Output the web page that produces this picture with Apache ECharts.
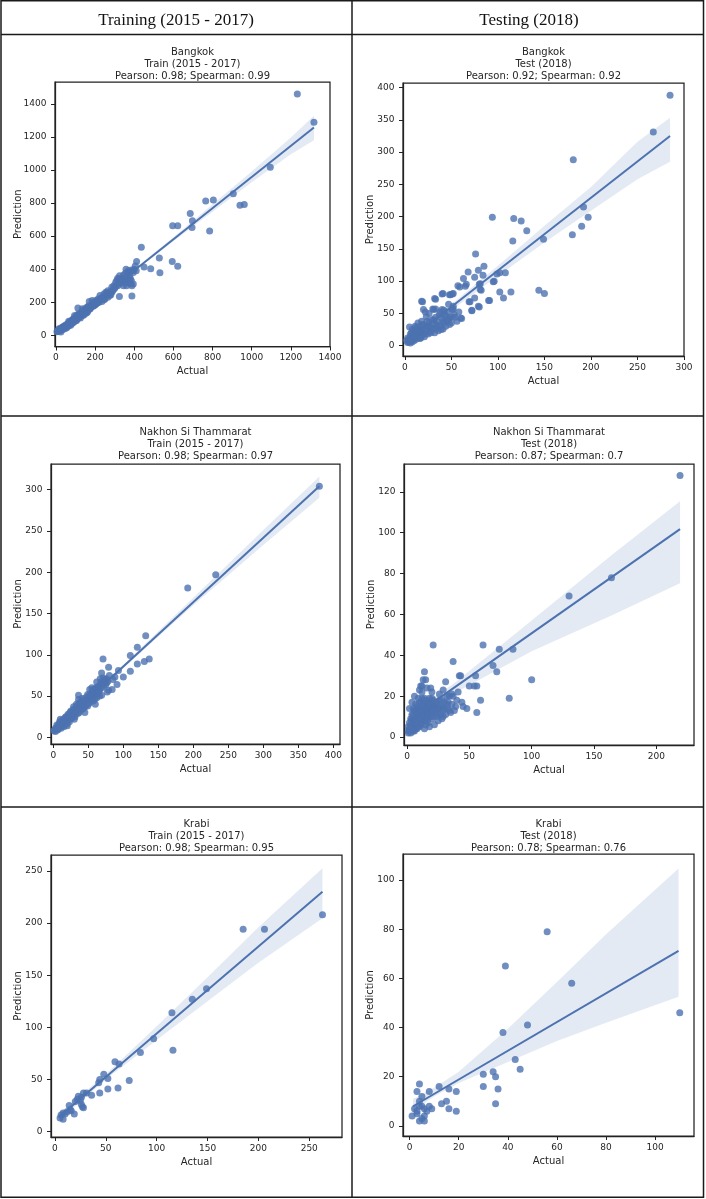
<!DOCTYPE html>
<html>
<head>
<meta charset="utf-8">
<script src="https://cdn.jsdelivr.net/npm/echarts@6/dist/echarts.min.js"></script>
<style>
html,body{margin:0;padding:0;background:#ffffff;}
#chart{width:706px;height:1199px;}
</style>
</head>
<body>
<div id="chart"></div>
<script>
// ---------------- DATA ----------------
const headerLabels = ['Training (2015 - 2017)', 'Testing (2018)'];
const cityNames = ['Bangkok', 'Bangkok', 'Nakhon Si Thammarat', 'Nakhon Si Thammarat', 'Krabi', 'Krabi'];
const periodNames = ['Train (2015 - 2017)', 'Test (2018)', 'Train (2015 - 2017)', 'Test (2018)', 'Train (2015 - 2017)', 'Test (2018)'];
const pearsonValues = ['0.98', '0.92', '0.98', '0.87', '0.98', '0.78'];
const spearmanValues = ['0.99', '0.92', '0.97', '0.7', '0.95', '0.76'];
const xAxisName = 'Actual';
const yAxisName = 'Prediction';

// Bangkok - Train
const bkkTrainPoints = [
  [1233,1460],[1318,1290],[1095,1017],[906,857],[940,787],[962,791],[765,813],[804,819],[785,631],
  [686,737],[697,693],[695,653],[596,663],[622,663],[436,533],[412,447],[528,467],[594,447],[622,417],
  [531,379],[450,413],[484,403],[388,238],[324,234],
  [5,22],[8,25],[10,28],[12,24],[15,30],[18,35],[20,28],[22,40],[25,33],[28,45],[30,38],[33,42],[35,50],
  [38,44],[40,55],[42,48],[45,52],[48,60],[50,58],[52,50],[55,65],[58,62],[60,70],[62,55],
  [65,72],[68,60],[70,80],[72,75],[75,85],[78,70],[80,90],[82,78],[85,95],[88,85],[90,100],[92,80],
  [95,105],[98,95],[100,110],[102,90],[105,115],[108,100],[110,120],[112,165],[115,105],[118,125],
  [120,110],[125,130],[128,118],[130,140],[133,125],[135,145],[138,120],[140,150],[143,135],[145,155],
  [148,140],[150,160],[155,150],[158,170],[160,140],[165,175],[170,205],[172,160],[175,180],[180,170],
  [185,190],[190,175],[195,200],[200,185],[205,210],[210,195],[215,220],[220,200],[225,215],[230,225],
  [235,205],[240,230],[245,250],[250,220],[255,240],[260,255],[265,230],[270,250],[275,260],[280,245],
  [285,290],[290,270],[295,300],[300,285],[305,320],[310,330],[315,300],[320,340],[325,310],[330,335],
  [335,320],[340,345],[345,300],[350,330],[355,375],[358,400],[362,340],[365,320],[370,390],[375,360],
  [380,345],[385,330],[388,300],[392,390],[395,310],[400,400],[405,420],[410,390],
  [15,40],[25,20],[35,35],[45,40],[55,45],[65,85],[75,60],[85,75],[95,120],[105,90],[115,130],[125,105],
  [135,160],[145,125],[155,135],[165,150],[175,160],[185,210],[195,180],[205,190],[215,200],[225,240],
  [235,220],[245,215],[255,260],[265,270],[275,240],[285,260],[295,280],[305,295],[315,345],[325,360],
  [335,340],[345,365],[355,320],[365,380],[375,330],[385,395],[395,380],[360,300],[380,310]
];
const bkkTrainLine = [[3,18],[1318,1258]];
const bkkTrainBandX = [3, 200, 400, 600, 800, 1000, 1200, 1318];
const bkkTrainBandLo = [10, 199, 387, 569, 748, 926, 1095, 1180];
const bkkTrainBandHi = [26, 209, 399, 594, 793, 991, 1197, 1328];
const bkkTrainXTicks = [0, 200, 400, 600, 800, 1000, 1200, 1400];
const bkkTrainYTicks = [0, 200, 400, 600, 800, 1000, 1200, 1400];

// Bangkok - Test
const bkkTestPoints = [
  [285,388],[267,331],[181,288],[94,199],[117,197],[125,193],[131,178],[116,162],[149,165],[180,172],
  [190,185],[192,215],[197,199],[76,142],[144,86],[150,81],[114,83],[102,83],[106,74],[90,70],[95,99],
  [99,111],[102,113],[108,113],[85,123],[79,117],[75,106],[84,109],[80,95],[82,86],[68,114],[63,104],
  [66,95],[57,93],[69,68],[72,54],[79,61],[75,74],[60,43],[51,80],[48,79],[41,81],[32,73],[26,50],
  [19,68],[20,56],[33,57],[40,56],[47,64],[51,56],[52,61],[48,43],[41,26],
  [59,91],[65,92],[81,96],[81,87],[96,100],[49,79],[52,81],[18,69],[91,70],[70,68],[72,55],[80,60],
  [31,56],[42,55],[52,57],[22,52],[61,42],[54,44],
  [2,8],[3,5],[4,10],[5,7],[5,29],[6,4],[6,14],[7,9],[7,20],[8,6],[8,25],[9,12],[9,17],[10,8],[10,22],
  [11,15],[11,30],[12,10],[12,19],[13,26],[14,13],[14,35],[15,18],[15,24],[16,11],[16,30],[17,21],
  [18,15],[18,38],[19,27],[20,20],[20,33],[21,14],[22,25],[23,45],[24,30],[25,18],[26,36],[27,22],
  [28,28],[29,40],[30,25],[30,57],[31,32],[32,20],[33,44],[34,27],[35,37],[36,23],[37,48],[38,31],
  [39,25],[40,42],[42,35],[43,48],[44,30],[45,38],[46,52],[48,33],[50,45],[33,72],[40,80],
  [3,12],[4,6],[6,18],[8,10],[10,15],[12,28],[14,22],[17,12],[19,32],[22,18],[24,38],[26,28],[28,20],
  [31,40],[34,33],[36,30],[38,52],[41,38],[44,46],[47,40],[50,35],[53,48],[56,38],[58,52]
];
const bkkTestLine = [[2,6],[285,325]];
const bkkTestBandX = [2, 50, 100, 150, 200, 250, 285];
const bkkTestBandLo = [0, 55, 108, 160, 209, 258, 285];
const bkkTestBandHi = [12, 64, 124, 186, 246, 316, 353];
const bkkTestXTicks = [0, 50, 100, 150, 200, 250, 300];
const bkkTestYTicks = [0, 50, 100, 150, 200, 250, 300, 350, 400];

// Nakhon Si Thammarat - Train
const nstTrainPoints = [
  [380,304],[232,197],[192,181],[132,123],[120,109],[110,99],[137,95],[130,92],[120,89],[110,80],
  [100,73],[91,64],[93,81],[88,73],[71,95],[79,85],[76,71],[79,57],[69,51],[67,71],[62,67],[52,58],
  [69,78],[36,51],[84,58],[77,55],
  [1,8],[2,9],[3,11],[4,10],[5,12],[6,9],[7,14],[8,12],[9,16],[10,13],[10,22],[11,15],[12,18],[13,14],
  [14,20],[15,17],[16,22],[17,19],[18,25],[19,21],[20,18],[21,24],[22,27],[23,22],[24,30],[25,26],
  [26,23],[27,31],[28,27],[29,34],[30,29],[31,25],[32,35],[33,31],[34,38],[35,33],[36,46],[37,30],
  [38,40],[39,36],[40,43],[41,34],[42,45],[43,39],[44,41],[45,37],[46,48],[47,42],[48,44],[49,38],
  [50,50],[51,46],[52,43],[53,52],[54,47],[55,55],[56,49],[57,44],[58,56],[59,51],[60,58],[61,53],
  [62,48],[63,60],[64,55],[65,62],[66,57],[68,65],[70,68],[72,62],[74,70],[76,66],[78,68],[80,75],[85,70],
  [3,7],[5,15],[7,10],[9,19],[11,11],[13,21],[15,13],[17,24],[19,16],[21,28],[23,19],[25,32],[27,24],
  [29,37],[31,28],[33,40],[35,29],[37,42],[39,33],[41,47],[43,35],[45,44],[47,39],[49,52],[51,41],
  [53,47],[55,46],[57,58],[59,46],[61,60],[63,52],[65,57],[67,64],[69,60],[71,72],[73,66],[75,64],
  [60,40],[45,30],[30,22],[20,14],[8,16],[55,60],[66,50]
];
const nstTrainLine = [[1.4,9],[380,304]];
const nstTrainBandX = [1.4, 100, 200, 300, 380];
const nstTrainBandLo = [7, 84, 160, 233, 290];
const nstTrainBandHi = [11, 88, 169, 251, 316];
const nstTrainXTicks = [0, 50, 100, 150, 200, 250, 300, 350, 400];
const nstTrainYTicks = [0, 50, 100, 150, 200, 250, 300];

// Nakhon Si Thammarat - Test
const nstTestPoints = [
  [219,128],[164,78],[130,69],[100,28],[82,19],[85,43],[74,43],[61,45],[21,45],[72,32],[69,35],[37,37],
  [55,30],[43,30],[31,27],[14,32],[15,28],[59,18],[56,12],[48,14],[44,17],[50,25],[54,25],[56,25],
  [41,22],[34,20],[37,20],[29,23],[19,24],[10,23],[12,25],[6,20],[4,17],[2,14],[42,30],[11,25],[36,21],[32,20],
  [1,3],[1,5],[2,4],[2,7],[3,2],[3,9],[4,5],[4,11],[5,3],[5,8],[6,6],[6,13],[7,4],[7,10],[8,7],[8,15],
  [9,5],[9,12],[10,9],[10,17],[11,6],[11,14],[12,10],[12,19],[13,8],[13,16],[14,12],[14,4],[15,15],
  [15,9],[16,18],[16,11],[17,7],[17,14],[18,16],[18,10],[19,13],[20,19],[20,9],[21,15],[22,12],
  [23,17],[24,10],[25,14],[26,18],[27,11],[28,15],[29,13],[30,17],[31,11],[33,14],[35,12],[36,16],
  [38,13],[40,18],[25,8],[22,6],[18,5],[45,15],[28,9],
  [1,2],[2,3],[3,4],[3,6],[4,3],[4,8],[5,5],[5,11],[6,3],[6,9],[7,7],[7,13],[8,4],[8,11],[9,8],[9,14],
  [10,5],[10,12],[11,9],[11,17],[12,7],[12,13],[13,11],[13,18],[14,8],[14,15],[15,12],[15,6],[16,14],
  [16,8],[17,17],[17,11],[18,13],[18,19],[19,10],[19,16],[20,14],[20,12],[21,18],[21,10],[22,15],
  [23,13],[24,16],[24,12],[25,11],[26,15],[27,14],[28,18],[29,10],[30,14],[32,16],[34,13],[14,19],
  [9,19],[12,22],[16,24],[13,28],[20,22],[26,21],[33,17],[39,15],[7,16],[5,14]
];
const nstTestLine = [[1,8.4],[219,101.7]];
const nstTestBandX = [1, 37, 100, 164, 219];
const nstTestBandLo = [6, 21, 42, 59.5, 75.2];
const nstTestBandHi = [11, 26, 57, 89, 115.4];
const nstTestXTicks = [0, 50, 100, 150, 200];
const nstTestYTicks = [0, 20, 40, 60, 80, 100, 120];

// Krabi - Train
const krabiTrainPoints = [
  [263,208],[185,194],[206,194],[149,137],[135,127],[115,114],[116,78],[97,89],[84,76],[73,49],[62,42],
  [52,41],[59,67],[63,65],[48,55],[44,50],[52,51],[43,47],[44,37],[36,35],[31,37],[28,37],[26,33],
  [27,24],[25,30],[23,34],[20,29],[19,17],[15,21],[14,25],[12,19],[8,18],[6,16],[5,13],[8,12],[26,26],
  [28,23],[16,20],[10,17],[22,31]
];
const krabiTrainLine = [[4.3,14.4],[263,230]];
const krabiTrainBandX = [4.3, 50, 100, 150, 200, 263];
const krabiTrainBandLo = [11, 50, 88, 125, 162, 204.6];
const krabiTrainBandHi = [18, 55, 101, 148, 196, 252.6];
const krabiTrainXTicks = [0, 50, 100, 150, 200, 250];
const krabiTrainYTicks = [0, 50, 100, 150, 200, 250];

// Krabi - Test
const krabiTestPoints = [
  [110,46],[56,79],[39,65],[66,58],[48,41],[38,38],[43,27],[45,23],[34,22],[30,21],[35,20],[30,16],
  [36,15],[35,9],[19,14],[16,15],[12,16],[8,14],[4,17],[3,14],[15,10],[13,9],[16,7],[19,6],[9,7],
  [5,12],[4,10],[2,7],[1,4],[3,5],[5,3],[4,2],[6,2],[6,4],[7,6],[4,8],[5,8],[3,6],[6,7],[8,8]
];
const krabiTestLine = [[1.4,8],[109.5,71.2]];
const krabiTestBandX = [1.4, 10, 20, 40, 60, 80, 109.5];
const krabiTestBandLo = [6, 12, 17.5, 26, 34.5, 42, 52.5];
const krabiTestBandHi = [11, 15.5, 22, 39.5, 58.5, 78, 104.7];
const krabiTestXTicks = [0, 20, 40, 60, 80, 100];
const krabiTestYTicks = [0, 20, 40, 60, 80, 100];

// ---------------- LAYOUT ----------------
const panelData = [
  {pts: bkkTrainPoints, line: bkkTrainLine, bx: bkkTrainBandX, lo: bkkTrainBandLo, hi: bkkTrainBandHi, xt: bkkTrainXTicks, yt: bkkTrainYTicks},
  {pts: bkkTestPoints, line: bkkTestLine, bx: bkkTestBandX, lo: bkkTestBandLo, hi: bkkTestBandHi, xt: bkkTestXTicks, yt: bkkTestYTicks},
  {pts: nstTrainPoints, line: nstTrainLine, bx: nstTrainBandX, lo: nstTrainBandLo, hi: nstTrainBandHi, xt: nstTrainXTicks, yt: nstTrainYTicks},
  {pts: nstTestPoints, line: nstTestLine, bx: nstTestBandX, lo: nstTestBandLo, hi: nstTestBandHi, xt: nstTestXTicks, yt: nstTestYTicks},
  {pts: krabiTrainPoints, line: krabiTrainLine, bx: krabiTrainBandX, lo: krabiTrainBandLo, hi: krabiTrainBandHi, xt: krabiTrainXTicks, yt: krabiTrainYTicks},
  {pts: krabiTestPoints, line: krabiTestLine, bx: krabiTestBandX, lo: krabiTestBandLo, hi: krabiTestBandHi, xt: krabiTestXTicks, yt: krabiTestYTicks}
];

const panelLayout = [
  {box: [55, 82, 275, 264.5], xr: [-5, 1400], yr: [-68, 1533], titleTop: 46.5, yGap: 32},
  {box: [403, 83, 281, 273], xr: [-2, 300], yr: [-16, 407], titleTop: 46, yGap: 27.5},
  {box: [51, 464, 289, 280], xr: [-3.3, 409.5], yr: [-8, 331], titleTop: 426.5, yGap: 27.5},
  {box: [404, 464, 290, 281], xr: [-2.4, 230.2], yr: [-3.9, 133.6], titleTop: 426.5, yGap: 28},
  {box: [51, 855, 291, 282], xr: [-3.9, 282.2], yr: [-5.1, 265.3], titleTop: 818.5, yGap: 27.5},
  {box: [403, 854, 291, 282], xr: [-2.7, 115.8], yr: [-4.1, 110.6], titleTop: 818.5, yGap: 27.5}
];

const BLUE = '#4C72B0';
const INK = '#262626';
const SPINE = '#222222';
const FONT = 'DejaVu Sans';

const grids = [], xAxes = [], yAxes = [], series = [], titles = [];
const plainNumber = v => String(v);

panelLayout.forEach((L, i) => {
  const d = panelData[i];
  grids.push({
    left: L.box[0], top: L.box[1], width: L.box[2], height: L.box[3],
    show: true, borderColor: SPINE, borderWidth: 1.25, backgroundColor: 'transparent', containLabel: false
  });
  titles.push({
    text: cityNames[i] + '\n' + periodNames[i] + '\nPearson: ' + pearsonValues[i] + '; Spearman: ' + spearmanValues[i],
    left: L.box[0] + L.box[2] / 2, top: L.titleTop, textAlign: 'center', padding: 0,
    textStyle: {fontFamily: FONT, fontSize: 10, fontWeight: 'normal', color: INK, lineHeight: 12}
  });
  xAxes.push({
    gridIndex: i, type: 'value', min: L.xr[0], max: L.xr[1],
    name: xAxisName, nameLocation: 'middle', nameGap: 20, nameMoveOverlap: false,
    nameTextStyle: {fontFamily: FONT, fontSize: 10, color: INK},
    axisLine: {show: true, onZero: false, lineStyle: {color: SPINE, width: 1.25}},
    axisTick: {show: true, length: 4, inside: false, lineStyle: {color: SPINE, width: 1}, customValues: d.xt},
    axisLabel: {customValues: d.xt, formatter: plainNumber, fontFamily: FONT, fontSize: 9, color: INK, margin: 7},
    splitLine: {show: false}
  });
  yAxes.push({
    gridIndex: i, type: 'value', min: L.yr[0], max: L.yr[1],
    name: yAxisName, nameLocation: 'middle', nameGap: L.yGap, nameRotate: 90, nameMoveOverlap: false,
    nameTextStyle: {fontFamily: FONT, fontSize: 10, color: INK},
    axisLine: {show: true, onZero: false, lineStyle: {color: SPINE, width: 1.25}},
    axisTick: {show: true, length: 4, inside: false, lineStyle: {color: SPINE, width: 1}, customValues: d.yt},
    axisLabel: {customValues: d.yt, formatter: plainNumber, fontFamily: FONT, fontSize: 9, color: INK, margin: 8.5},
    splitLine: {show: false}
  });
  series.push({
    type: 'scatter', xAxisIndex: i, yAxisIndex: i, data: d.pts, symbolSize: 7, silent: true, z: 2,
    itemStyle: {color: BLUE, opacity: 0.8}
  });
  series.push({
    type: 'custom', xAxisIndex: i, yAxisIndex: i, silent: true, z: 3,
    data: d.bx.map((x, k) => [x, d.lo[k], d.hi[k]]),
    encode: {x: 0, y: [1, 2]},
    renderItem: function (params, api) {
      if (params.dataIndex !== 0) return null;
      const pts = [];
      for (let k = 0; k < d.bx.length; k++) pts.push(api.coord([d.bx[k], d.hi[k]]));
      for (let k = d.bx.length - 1; k >= 0; k--) pts.push(api.coord([d.bx[k], d.lo[k]]));
      return {type: 'polygon', shape: {points: pts}, style: {fill: 'rgba(76,114,176,0.15)'}};
    }
  });
  series.push({
    type: 'line', xAxisIndex: i, yAxisIndex: i, data: d.line, showSymbol: false, symbol: 'none', silent: true, z: 4,
    lineStyle: {color: BLUE, width: 2}
  });
});

const tableStroke = {stroke: '#1a1a1a', lineWidth: 1.5};
const graphics = [
  {type: 'rect', shape: {x: 1, y: 0.75, width: 702.5, height: 1196.5}, style: Object.assign({fill: 'none'}, tableStroke), z: 100},
  {type: 'line', shape: {x1: 352, y1: 0, x2: 352, y2: 1197}, style: tableStroke, z: 100},
  {type: 'line', shape: {x1: 1, y1: 34.5, x2: 704, y2: 34.5}, style: tableStroke, z: 100},
  {type: 'line', shape: {x1: 1, y1: 416, x2: 704, y2: 416}, style: tableStroke, z: 100},
  {type: 'line', shape: {x1: 1, y1: 807, x2: 704, y2: 807}, style: tableStroke, z: 100},
  {type: 'text', x: 176, y: 20.5, z: 100, style: {text: headerLabels[0], fontFamily: 'Liberation Serif', fontSize: 17, fill: '#111', align: 'center', verticalAlign: 'middle'}},
  {type: 'text', x: 529, y: 20.5, z: 100, style: {text: headerLabels[1], fontFamily: 'Liberation Serif', fontSize: 17, fill: '#111', align: 'center', verticalAlign: 'middle'}}
];

const chart = echarts.init(document.getElementById('chart'), null, {renderer: 'canvas'});
chart.setOption({
  animation: false,
  backgroundColor: '#ffffff',
  title: titles,
  grid: grids,
  xAxis: xAxes,
  yAxis: yAxes,
  series: series,
  graphic: graphics
});
</script>
</body>
</html>
